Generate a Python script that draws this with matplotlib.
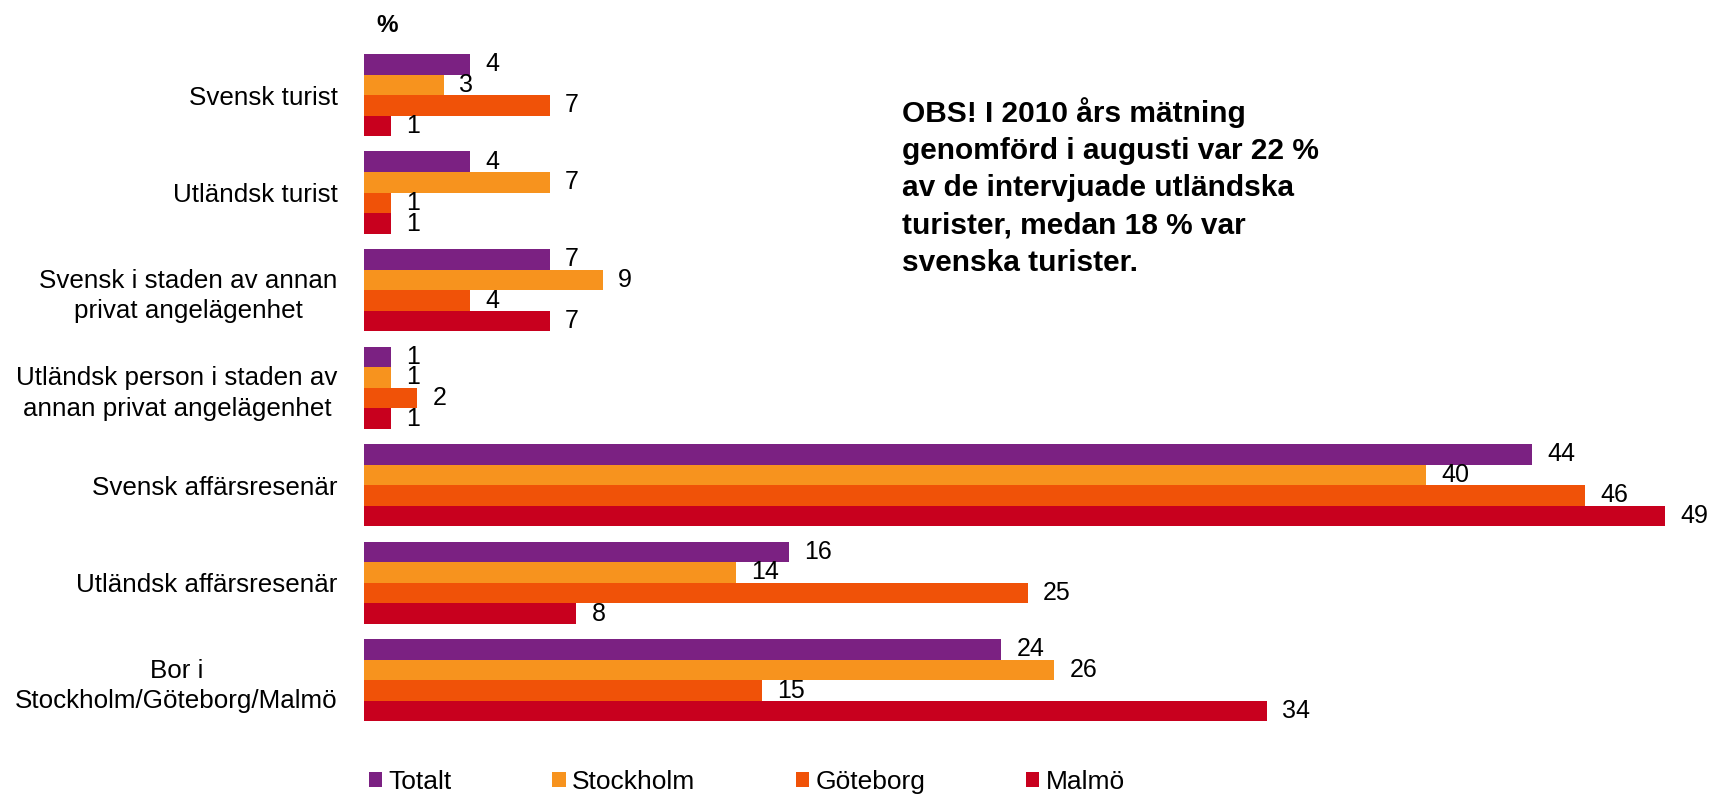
import matplotlib.pyplot as plt
import numpy as np

plt.rcParams['font.family'] = ['Liberation Sans', 'DejaVu Sans']

# kategorier och värden (%)
categories = [
    'Svensk turist',
    'Utländsk turist',
    'Svensk i staden av annan\nprivat angelägenhet',
    'Utländsk person i staden av\nannan privat angelägenhet',
    'Svensk affärsresenär',
    'Utländsk affärsresenär',
    'Bor i\nStockholm/Göteborg/Malmö',
]
series_names = ['Totalt', 'Stockholm', 'Göteborg', 'Malmö']
totalt = [4, 4, 7, 1, 44, 16, 24]
stockholm = [3, 7, 9, 1, 40, 14, 26]
goteborg = [7, 1, 4, 2, 46, 25, 15]
malmo = [1, 1, 7, 1, 49, 8, 34]
colors = ['#7B2182', '#F7931E', '#F05208', '#C8001E']

W, H = 1712, 795
fig = plt.figure(figsize=(W / 100, H / 100), dpi=100)
# axes i pixlar: vänster 364, topp 40, botten 735
ax = fig.add_axes([364 / W, 1 - 735 / H, 1327.5 / W, 695 / H])

h = 20.6 / 97.5
y = np.arange(len(categories))
for j, (name, vals) in enumerate(zip(series_names, [totalt, stockholm, goteborg, malmo])):
    bars = ax.barh(y + (j - 1.5) * h, vals, height=h, color=colors[j],
                   label=name, linewidth=0)
    ax.bar_label(bars, padding=11, fontsize=18, color='black')

ax.set_xlim(0, 50)
ax.set_ylim((735 - 95.2) / 97.5, (40 - 95.2) / 97.5)
ax.set_yticks(y)
ax.set_yticklabels(categories, fontsize=18.7)
for lab in ax.get_yticklabels():
    lab.set_multialignment('center')
    lab.set_linespacing(1.35)
ax.tick_params(axis='y', length=0, pad=19)
ax.set_xticks([])
for s in ax.spines.values():
    s.set_visible(False)

fig.text(387 / W, 1 - 25 / H, '%', fontsize=17.5, fontweight='bold',
         ha='center', va='center')

fig.text(902 / W, 1 - 97 / H,
         'OBS! I 2010 års mätning\ngenomförd i augusti var 22 %\n'
         'av de intervjuade utländska\nturister, medan 18 % var\nsvenska turister.',
         fontsize=21.5, fontweight='bold', ha='left', va='top', linespacing=1.42)

fig.legend(loc='center left', bbox_to_anchor=(369 / W, 1 - 782 / H), ncol=4,
           frameon=False, fontsize=19, handlelength=0.5, handleheight=0.5,
           handletextpad=0.25, columnspacing=3.8, borderpad=0, borderaxespad=0)

fig.savefig('out.png', dpi=100)
